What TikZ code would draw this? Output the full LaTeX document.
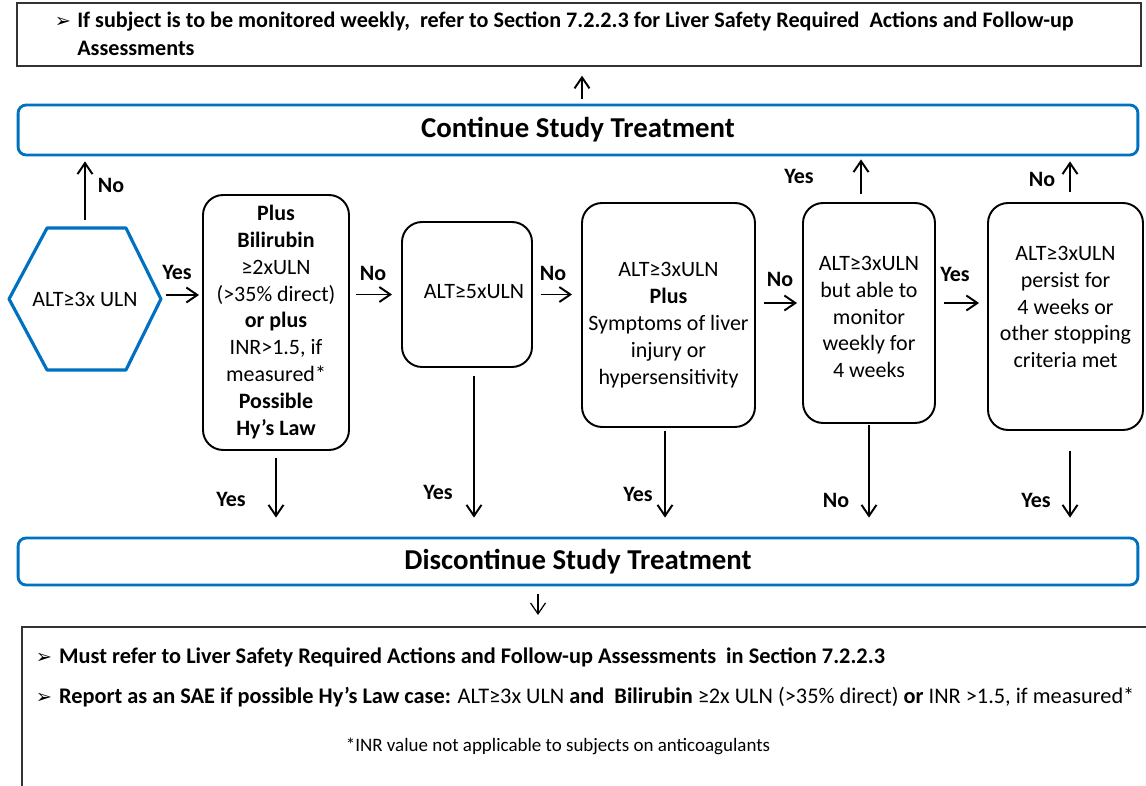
\documentclass[tikz,border=0pt]{standalone}
\usepackage{fontspec}
\setmainfont{Carlito}
\newfontfamily\dingfont{DejaVu Sans}
\usetikzlibrary{arrows.meta}
\definecolor{ozblue}{RGB}{0,112,192}
\newcommand{\pointer}{{\dingfont\mdseries\fontsize{11}{11}\selectfont ➢}}

\begin{document}
\begin{tikzpicture}[x=0.02cm, y=-0.02cm, line width=1.1pt,
  >={Straight Barb[length=2.2mm, width=3mm]},
  box/.style = {draw, rounded corners=0.4cm},
  boxtxt/.style = {align=center, inner sep=0pt, font=\fontsize{12.5}{15.3}\selectfont},
  bar/.style = {draw=ozblue, line width=1.6pt, rounded corners=0.16cm,
    minimum width=22.4cm, minimum height=1cm, font=\fontsize{16.4}{19}\selectfont\bfseries},
  hexline/.style = {draw=ozblue, line width=1.8pt, line join=round},
  notebox/.style = {draw=black!80, line width=0.8pt},
  lbl/.style = {font=\fontsize{12.5}{14}\selectfont\bfseries}]
\useasboundingbox (0,0) rectangle (1146,786);

% top note
\node[notebox, minimum width=22.48cm, minimum height=1.26cm] (monitor) at (579,34.5) {};
\node[anchor=west, inner sep=0pt, align=left, font=\fontsize{12.6}{16}\selectfont\bfseries] (monitortxt) at (54,35.5)
  {\begin{tabular}{@{}l@{\hspace{3.5pt}}l@{}}\pointer & If subject is to be monitored weekly,\ \ refer to Section 7.2.2.3 for Liver Safety Required\ \ Actions and Follow-up\\ & Assessments\end{tabular}};

% bars
\node[bar] (cont) at (578,130) {Continue Study Treatment};
\node[bar, minimum height=0.94cm] (stop) at (578,561.5) {Discontinue Study Treatment};

% decision row
\node[boxtxt, minimum width=3cm, minimum height=2.8cm] (alt) at (85,299) {ALT≥3x ULN};
\draw[hexline] (alt.west) -- ([xshift=0.76cm]alt.north west) -- ([xshift=-0.7cm]alt.north east)
  -- (alt.east) -- ([xshift=-0.7cm]alt.south east) -- ([xshift=0.76cm]alt.south west) -- cycle;

\node[box, minimum width=2.92cm, minimum height=5.1cm] (hy) at (276,322.5) {};
\node[boxtxt] (hytxt) at (276,322)
  {\textbf{Plus}\\ \textbf{Bilirubin}\\ ≥2xULN\\ (>35\% direct)\\ \textbf{or plus}\\ INR>1.5, if\\ measured*\\ \textbf{Possible}\\ \textbf{Hy’s Law}};
\node[box, minimum width=2.6cm, minimum height=2.9cm] (five) at (467,294.5) {};
\node[boxtxt] (fivetxt) at (474,292) {ALT≥5xULN};
\node[box, minimum width=3.46cm, minimum height=4.48cm] (symp) at (668.5,315) {};
\node[boxtxt] (symptxt) at (668.5,325)
  {ALT≥3xULN\\ \textbf{Plus}\\ Symptoms of liver\\ injury or\\ hypersensitivity};
\node[box, minimum width=2.64cm, minimum height=4.4cm] (weekly) at (869,313) {};
\node[boxtxt] (weeklytxt) at (869,317)
  {ALT≥3xULN\\ but able to\\ monitor\\ weekly for\\ 4 weeks};
\node[box, minimum width=3.1cm, minimum height=4.54cm] (persist) at (1065.5,316.5) {};
\node[boxtxt] (persisttxt) at (1065.5,307)
  {ALT≥3xULN\\ persist for\\ 4 weeks or\\ other stopping\\ criteria met};

% bottom note
\coordinate (rep) at (22,627);
\draw[notebox] (1146,627) -- (rep) -- (22,786);
\node[anchor=west, inner sep=0pt, font=\fontsize{12.7}{14}\selectfont\bfseries] (must) at (35,657)
  {\pointer\hspace{4pt}Must refer to Liver Safety Required Actions and Follow-up Assessments\ \ in Section 7.2.2.3};
\node[anchor=west, inner sep=0pt, font=\fontsize{12.7}{14}\selectfont\bfseries] (sae) at (35,697)
  {\pointer\hspace{4pt}Report as an SAE if possible Hy’s Law case: {\mdseries ALT≥3x ULN} and\ \ Bilirubin {\mdseries ≥2x ULN (>35\% direct)} or {\mdseries INR >1.5, if measured*}};
\node[font=\fontsize{10.8}{12}\selectfont] (inr) at (558,746) {*INR value not applicable to subjects on anticoagulants};

% connectors
\draw[->, shorten <=0.1cm, shorten >=0.18cm] ([xshift=0.08cm]cont.north) -- ([xshift=0.08cm]cont.north |- monitor.south);
\draw[->, shorten <=0.16cm, shorten >=0.1cm] (alt.north) -- (alt.north |- cont.south);
\draw[->, shorten <=0.1cm, shorten >=0.06cm] ([yshift=0.08cm]alt.east) -- ([yshift=0.08cm]alt.east -| hy.west);
\draw[->, shorten <=0.12cm, shorten >=0.18cm] (hy.east |- five.west) -- (five.west);
\draw[->, shorten <=0.16cm, shorten >=0.18cm] (five.east) -- (five.east -| symp.west);
\draw[->, shorten <=0.16cm, shorten >=0.1cm] ([yshift=0.2cm]weekly.west -| symp.east) -- ([yshift=0.2cm]weekly.west);
\draw[->, shorten <=0.16cm, shorten >=0.16cm] ([yshift=0.2cm]weekly.east) -- ([yshift=0.2cm]weekly.east -| persist.west);
\draw[->, shorten <=0.16cm, shorten >=0.06cm] ([xshift=-0.16cm]weekly.north) -- ([xshift=-0.16cm]weekly.north |- cont.south);
\draw[->, shorten <=0.2cm, shorten >=0.1cm] ([xshift=0.09cm]persist.north) -- ([xshift=0.09cm]persist.north |- cont.south);
\draw[->, shorten <=0.14cm, shorten >=0.38cm] (hy.south) -- (hy.south |- stop.north);
\draw[->, shorten <=0.16cm, shorten >=0.38cm] ([xshift=0.14cm]five.south) -- ([xshift=0.14cm]five.south |- stop.north);
\draw[->, shorten <=0.06cm, shorten >=0.38cm] ([xshift=-0.07cm]symp.south) -- ([xshift=-0.07cm]symp.south |- stop.north);
\draw[->, shorten <=0.02cm, shorten >=0.38cm] (weekly.south) -- (weekly.south |- stop.north);
\draw[->, shorten <=0.4cm, shorten >=0.38cm] ([xshift=0.09cm]persist.south) -- ([xshift=0.09cm]persist.south |- stop.north);
\draw[->, line width=0.7pt, shorten <=0.16cm, shorten >=0.24cm] ([xshift=-0.8cm]stop.south) -- ([xshift=-0.8cm]stop.south |- rep);

% labels
\node[lbl] (n1) at (111,185) {No};
\node[lbl] (y1) at (177,272) {Yes};
\node[lbl] (n2) at (373,273) {No};
\node[lbl] (n3) at (553,273) {No};
\node[lbl] (n4) at (780,279) {No};
\node[lbl] (y2) at (955,274) {Yes};
\node[lbl] (y3) at (799,176) {Yes};
\node[lbl] (n5) at (1042,179) {No};
\node[lbl] (y4) at (231,499) {Yes};
\node[lbl] (y5) at (438,492) {Yes};
\node[lbl] (y6) at (638,494) {Yes};
\node[lbl] (n6) at (836,500) {No};
\node[lbl] (y7) at (1036,500) {Yes};
\end{tikzpicture}
\end{document}
